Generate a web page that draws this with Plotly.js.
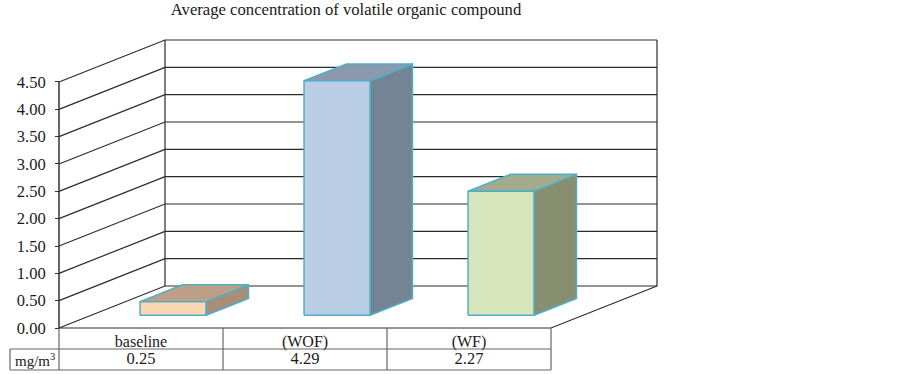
<!DOCTYPE html>
<html>
<head>
<meta charset="utf-8">
<script src="https://cdn.plot.ly/plotly-3.0.1.min.js"></script>
<style>html,body{margin:0;padding:0;background:#fff}#chart{width:903px;height:374px}</style>
</head>
<body>
<div id="chart"></div>
<script>
const categories = ["baseline", "(WOF)", "(WF)"];
const values = [0.25, 4.29, 2.27];
const yTicks = [0, 0.5, 1, 1.5, 2, 2.5, 3, 3.5, 4, 4.5];
const titleText = "Average concentration of volatile organic compound";
const unitLabel = "mg/m<sup>3</sup>";
const frontColors = ["#FCD5B5", "#B9CDE5", "#D8E4BC"];
const topColors = ["#BD9F88", "#8B99AD", "#A2AB8D"];
const sideColors = ["#A88D79", "#748495", "#878F70"];

const W = 903, H = 374, SERIF = '"Liberation Serif","Times New Roman",serif';
const catPx = 164, valPx = 54.67, x0Px = 59, y0Px = 328;
const xRange = [-x0Px / catPx - 0.5, (W - x0Px) / catPx - 0.5];
const yRange = [-(H - y0Px) / valPx, y0Px / valPx];
const DX = 106 / catPx, DY = 42 / valPx;          // oblique depth vector
const nCat = categories.length, yMax = yTicks[yTicks.length - 1];
const left = -0.5, right = nCat - 0.5;
const BW = 0.201, D0 = 0.302, D1 = 0.703;         // bar half width, near / far depth
const rowY = [-21 / valPx, -42 / valPx];          // table rules
const leftCell = -0.5 - 49 / catPx;

const P = (c, v, d) => [c + d * DX, v + d * DY];
const traces = [];
function poly(pts, o) {
  traces.push(Object.assign({
    type: "scatter", mode: "lines",
    x: pts.map(p => p[0]), y: pts.map(p => p[1]),
    showlegend: false, hoverinfo: "skip"
  }, o));
}
const dark = { line: { color: "#2b2b2b", width: 1.2 } };
const gray = { line: { color: "#666666", width: 1.2 } };

// back wall and left wall grid
yTicks.forEach(v => {
  poly([P(left, v, 0), P(left, v, 1), P(right, v, 1)], dark);
});
poly([P(left, 0, 1), P(left, yMax, 1)], dark);
poly([P(right, 0, 1), P(right, yMax, 1)], dark);
poly([P(left, 0, 0), P(left, yMax, 0)], { line: { color: "#333333", width: 1.5 } });
poly([P(left, 0, 0), P(right, 0, 0), P(right, 0, 1)], dark);

// bars: side, top, front
const edge = { color: "#4FAFC6", width: 1.5 };
values.forEach((v, i) => {
  const a = i - BW, b = i + BW;
  poly([P(b, 0, D0), P(b, 0, D1), P(b, v, D1), P(b, v, D0), P(b, 0, D0)],
    { fill: "toself", fillcolor: sideColors[i], line: edge });
  poly([P(a, v, D0), P(a, v, D1), P(b, v, D1), P(b, v, D0), P(a, v, D0)],
    { fill: "toself", fillcolor: topColors[i], line: edge });
  poly([P(a, 0, D0), P(b, 0, D0), P(b, v, D0), P(a, v, D0), P(a, 0, D0)],
    { fill: "toself", fillcolor: frontColors[i], line: edge });
});

// data table rules
poly([P(leftCell, rowY[0], 0), P(right, rowY[0], 0)], gray);
poly([P(leftCell, rowY[1], 0), P(right, rowY[1], 0)], gray);
poly([P(leftCell, rowY[0], 0), P(leftCell, rowY[1], 0)], gray);
for (let i = 0; i <= nCat; i++) {
  poly([P(i - 0.5, 0, 0), P(i - 0.5, rowY[1], 0)], gray);
}
// data table text
traces.push({
  type: "scatter", mode: "text", showlegend: false, hoverinfo: "skip",
  x: categories.map((_, i) => i), y: categories.map(() => (rowY[0] + rowY[1]) / 2),
  text: values.map(v => v.toFixed(2)), textposition: "middle center",
  textfont: { family: SERIF, size: 16.5, color: "#1a1a1a" }
});

const layout = {
  width: W, height: H, margin: { l: 0, r: 0, t: 0, b: 0, pad: 0 },
  paper_bgcolor: "#fff", plot_bgcolor: "#fff", showlegend: false,
  title: { text: titleText, x: 346 / W, xanchor: "center", y: 1 - 9.5 / H, yanchor: "middle",
           font: { family: SERIF, size: 16.67, color: "#1a1a1a" } },
  xaxis: { range: xRange, showgrid: false, zeroline: false, showline: false,
           anchor: "free", position: (H - y0Px) / H, tickmode: "array",
           tickvals: categories.map((_, i) => i), ticktext: categories, ticks: "",
           tickfont: { family: SERIF, size: 16, color: "#1a1a1a" }, ticklabelstandoff: 2 },
  yaxis: { range: yRange, showgrid: false, zeroline: false, showline: false,
           anchor: "free", position: x0Px / W, tickmode: "array", tickvals: yTicks,
           tickformat: ".2f", ticks: "outside", ticklen: 4, tickcolor: "#333", tickwidth: 1.2,
           tickfont: { family: SERIF, size: 16.5, color: "#1a1a1a" }, ticklabelstandoff: 6 },
  annotations: [{
    x: (leftCell - 0.5) / 2, y: (rowY[0] + rowY[1]) / 2, xref: "x", yref: "y",
    text: unitLabel, showarrow: false, xanchor: "center", yanchor: "middle",
    font: { family: SERIF, size: 15, color: "#1a1a1a" }
  }]
};
Plotly.newPlot("chart", traces, layout, { displayModeBar: false, responsive: false });
</script>
</body>
</html>
